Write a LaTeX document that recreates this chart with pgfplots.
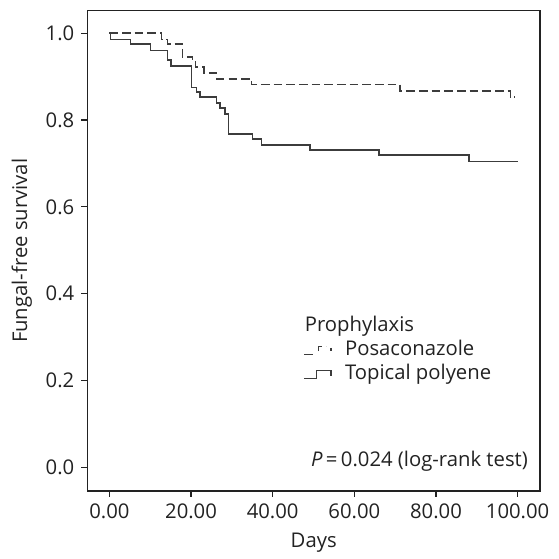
\documentclass[border=0pt]{standalone}
\usepackage{fontspec}
\setmainfont{Open Sans}
\usepackage{pgfplots}
\pgfplotsset{compat=1.18}
\definecolor{curve}{HTML}{3C3C3C}
\definecolor{frame}{HTML}{222222}
\newcommand{\chartfont}{\fontsize{15.2}{18}\selectfont}
\begin{document}
\chartfont
\begin{tikzpicture}
\begin{axis}[
    scale only axis,
    width=339.5pt, height=360.2pt,
    xmin=-5.4, xmax=105.5,
    ymin=-0.0546, ymax=1.052,
    xtick={0,20,40,60,80,100},
    ytick={0,0.2,0.4,0.6,0.8,1.0},
    tick align=outside, tick pos=left,
    major tick length=4.5pt,
    axis line style={line width=0.9pt, frame},
    tick style={line width=0.9pt, frame},
    /pgf/number format/assume math mode=true,
    xticklabel style={/pgf/number format/.cd, fixed, fixed zerofill, precision=2},
    yticklabel style={/pgf/number format/.cd, fixed, fixed zerofill, precision=1},
    every tick label/.append style={font=\chartfont, text=frame},
    label style={font=\chartfont, text=frame},
    xlabel={Days}, ylabel={Fungal-free survival},
    legend style={at={(rel axis cs:0.478,0.316)}, anchor=north west,
        draw=none, fill=none, inner sep=0pt, outer sep=0pt,
        font=\chartfont, text=frame, row sep=1pt, column sep=9pt,
        nodes={inner sep=1pt, text height=11pt, text depth=4pt}},
    legend cell align=left,
]
% Posaconazole
\addplot[const plot, curve, line width=1.1pt, dash pattern=on 6.5pt off 3pt,
    legend image code/.code={\draw[curve, line width=1pt]
        (0pt,-3pt) -- (8.5pt,-3pt)
        (10.5pt,-0.5pt) -- (10.5pt,3pt) -- (16.5pt,3pt)
        (20pt,2pt) -- (20pt,-0.5pt);}]
coordinates {
(0,1.0) (12.8,0.985) (14.2,0.975) (17.9,0.945) (20.4,0.937) (21.1,0.922)
(23.2,0.908) (26.3,0.895) (34.8,0.882) (71.2,0.867) (98.2,0.853) (99.2,0.853)
};
\addlegendentry{Posaconazole}
% Topical polyene
\addplot[const plot, curve, line width=1.1pt,
    legend image code/.code={\draw[curve, line width=1pt]
        (0pt,-3pt) -- (9pt,-3pt) -- (9pt,3pt) -- (20pt,3pt) -- (20pt,-1pt);}]
coordinates {
(0,1.0) (0.3,0.986) (5.2,0.975) (10.1,0.960) (14.2,0.938) (15.1,0.925)
(20.1,0.875) (21.4,0.865) (22.2,0.853) (26.3,0.839) (27.1,0.828) (28.3,0.814)
(29.2,0.768) (35.1,0.756) (37.3,0.742) (49.1,0.731) (66.0,0.719) (88.1,0.705)
(100.2,0.705)
};
\addlegendentry{Topical polyene}
\node[anchor=base west, inner sep=0pt, text=frame, font=\chartfont]
    at (rel axis cs:0.480,0.332) {Prophylaxis};
\node[anchor=base east, inner sep=0pt, text=frame, font=\chartfont]
    at (rel axis cs:0.9735,0.0506) {\textit{P}\,=\,0.024 (log-rank test)};
\end{axis}
\useasboundingbox ([shift={(-65.5pt,-51pt)}]current axis.south west) rectangle ([shift={(13.5pt,8pt)}]current axis.north east);
\end{tikzpicture}
\end{document}
